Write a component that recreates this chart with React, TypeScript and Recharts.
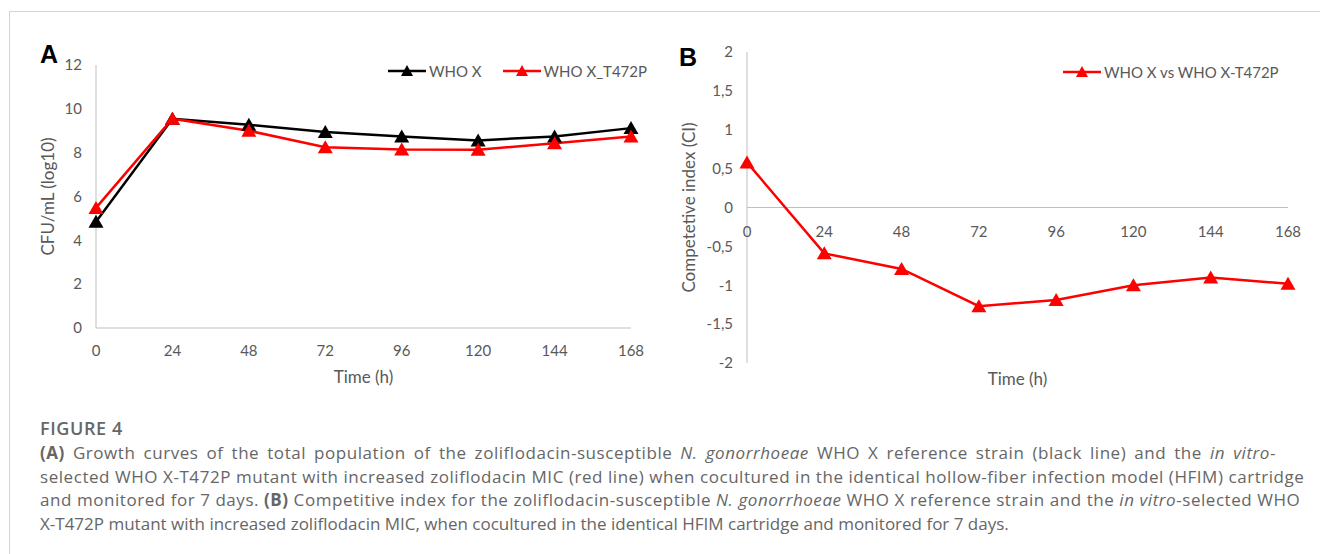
import {
  LineChart, Line, XAxis, YAxis, Legend, ReferenceLine,
} from 'recharts';

const hours = [0, 24, 48, 72, 96, 120, 144, 168];
const whoX = [4.85, 9.55, 9.27, 8.94, 8.74, 8.56, 8.74, 9.12];
const whoXT472P = [5.48, 9.55, 9.0, 8.25, 8.15, 8.13, 8.43, 8.74];
const competitiveIndex = [0.58, -0.59, -0.79, -1.27, -1.19, -1.0, -0.9, -0.98];

const growthTicks = [0, 2, 4, 6, 8, 10, 12];
const ciTicks = [-2, -1.5, -1, -0.5, 0, 0.5, 1, 1.5, 2];

const AXIS = '#bfbfbf';
const TEXT = '#595959';
const RED = '#ff0000';
const FONT = 'Lato, "Open Sans", sans-serif';

const growthData = hours.map((h, i) => ({ h, 'WHO X': whoX[i], 'WHO X_T472P': whoXT472P[i] }));
const ciData = hours.map((h, i) => ({ h, ci: competitiveIndex[i] }));

const triangleDot = (color: string) => (props: any) => {
  const { cx, cy, index } = props;
  if (cx == null || cy == null) return <g key={index} />;
  return (
    <polygon
      key={index}
      points={`${cx},${cy - 7} ${cx - 7.5},${cy + 6} ${cx + 7.5},${cy + 6}`}
      fill={color}
    />
  );
};

const LegendIcon = ({ color }: { color: string }) => (
  <svg width={38} height={14} style={{ display: 'block' }}>
    <line x1={0} y1={7} x2={38} y2={7} stroke={color} strokeWidth={2.5} />
    <polygon points="19,1 13,12 25,12" fill={color} />
  </svg>
);

const legendContent = (items: { label: string; color: string }[]) => () => (
  <div style={{ display: 'flex', alignItems: 'center', fontFamily: FONT, fontSize: 15, color: TEXT, whiteSpace: 'nowrap' }}>
    {items.map((it, i) => (
      <div key={it.label} style={{ display: 'flex', alignItems: 'center', marginLeft: i ? 21 : 0 }}>
        <LegendIcon color={it.color} />
        <span style={{ marginLeft: 3 }}>{it.label}</span>
      </div>
    ))}
  </div>
);

const tickStyle = { fontSize: 15, fill: TEXT, fontFamily: FONT };
const labelStyle = { fontSize: 17, fill: TEXT, fontFamily: FONT, textAnchor: 'middle' as const };

const italic = { fontStyle: 'italic' as const };
const justified = (width: number) => ({
  width, textAlign: 'justify' as const, textAlignLast: 'justify' as const, letterSpacing: 0.55,
});

export default function App() {
  return (
    <div style={{ position: 'absolute', left: 0, top: 0, width: 1320, height: 554, background: '#fff', overflow: 'hidden' }}>
      <div style={{ position: 'absolute', left: 9, top: 11, right: 0, bottom: 0, borderLeft: '1px solid #d3d3d3', borderTop: '1px solid #d3d3d3' }} />

      <div style={{ position: 'absolute', left: 40, top: 40, fontFamily: 'Arial, "Liberation Sans", sans-serif', fontWeight: 700, fontSize: 25 }}>A</div>
      <div style={{ position: 'absolute', left: 679, top: 43, fontFamily: 'Arial, "Liberation Sans", sans-serif', fontWeight: 700, fontSize: 25 }}>B</div>

      <div style={{ position: 'absolute', left: 0, top: 0 }}>
        <LineChart width={660} height={400} data={growthData} margin={{ top: 65, right: 29, bottom: 42, left: 56 }}>
          <XAxis
            dataKey="h"
            type="number"
            domain={[0, 168]}
            ticks={hours}
            height={30}
            stroke={AXIS}
            tickLine={false}
            tickSize={0}
            tickMargin={17}
            tick={tickStyle}
            label={{ value: 'Time (h)', position: 'bottom', offset: 13, style: labelStyle }}
          />
          <YAxis
            type="number"
            domain={[0, 12]}
            ticks={growthTicks}
            width={40}
            stroke={AXIS}
            tickLine={false}
            tickSize={0}
            tickMargin={14}
            tick={tickStyle}
            label={{ value: 'CFU/mL (log10)', angle: -90, position: 'left', offset: 8, style: labelStyle }}
          />
          <Legend
            layout="horizontal"
            verticalAlign="middle"
            align="center"
            wrapperStyle={{ top: 62, left: 388, width: 'auto' }}
            content={legendContent([
              { label: 'WHO X', color: '#000' },
              { label: 'WHO X_T472P', color: RED },
            ])}
          />
          <Line dataKey="WHO X" stroke="#000" strokeWidth={2.5} dot={triangleDot('#000')} isAnimationActive={false} />
          <Line dataKey="WHO X_T472P" stroke={RED} strokeWidth={2.5} dot={triangleDot(RED)} isAnimationActive={false} />
        </LineChart>
      </div>

      <div style={{ position: 'absolute', left: 660, top: 0 }}>
        <LineChart width={660} height={400} data={ciData} margin={{ top: 52, right: 32, bottom: 33, left: 37 }}>
          <XAxis
            dataKey="h"
            type="number"
            domain={[0, 168]}
            ticks={hours}
            height={4}
            axisLine={false}
            tickLine={false}
            tickSize={0}
            tickMargin={-137}
            tick={tickStyle}
            label={{ value: 'Time (h)', position: 'bottom', offset: 6, style: labelStyle }}
          />
          <YAxis
            type="number"
            domain={[-2, 2]}
            ticks={ciTicks}
            width={50}
            stroke={AXIS}
            tickLine={false}
            tickSize={0}
            tickMargin={14}
            tick={tickStyle}
            tickFormatter={(v: number) => String(v).replace('.', ',')}
            label={{ value: 'Competetive index (CI)', angle: -90, position: 'left', offset: 8, style: labelStyle }}
          />
          <ReferenceLine y={0} stroke={AXIS} strokeWidth={1} />
          <Legend
            layout="horizontal"
            verticalAlign="middle"
            align="center"
            wrapperStyle={{ top: 63, left: 403, width: 'auto' }}
            content={legendContent([{ label: 'WHO X vs WHO X-T472P', color: RED }])}
          />
          <Line dataKey="ci" name="WHO X vs WHO X-T472P" stroke={RED} strokeWidth={2.5} dot={triangleDot(RED)} isAnimationActive={false} />
        </LineChart>
      </div>

      <div style={{ position: 'absolute', left: 40, top: 416, fontFamily: '"Open Sans", sans-serif', color: '#666', whiteSpace: 'nowrap' }}>
        <div style={{ fontSize: 18, fontWeight: 600, lineHeight: '24px', letterSpacing: 0.6, marginBottom: 1 }}>FIGURE 4</div>
        <div style={{ fontSize: 17, lineHeight: '23.5px' }}>
          <div style={justified(1236)}><b>(A)</b> Growth curves of the total population of the zoliflodacin-susceptible <span style={italic}>N. gonorrhoeae</span> WHO X reference strain (black line) and the <span style={italic}>in vitro</span>-</div>
          <div style={justified(1262)}>selected WHO X-T472P mutant with increased zoliflodacin MIC (red line) when cocultured in the identical hollow-fiber infection model (HFIM) cartridge</div>
          <div style={justified(1260)}>and monitored for 7 days. <b>(B)</b> Competitive index for the zoliflodacin-susceptible <span style={italic}>N. gonorrhoeae</span> WHO X reference strain and the <span style={italic}>in vitro</span>-selected WHO</div>
          <div>X-T472P mutant with increased zoliflodacin MIC, when cocultured in the identical HFIM cartridge and monitored for 7 days.</div>
        </div>
      </div>
    </div>
  );
}
